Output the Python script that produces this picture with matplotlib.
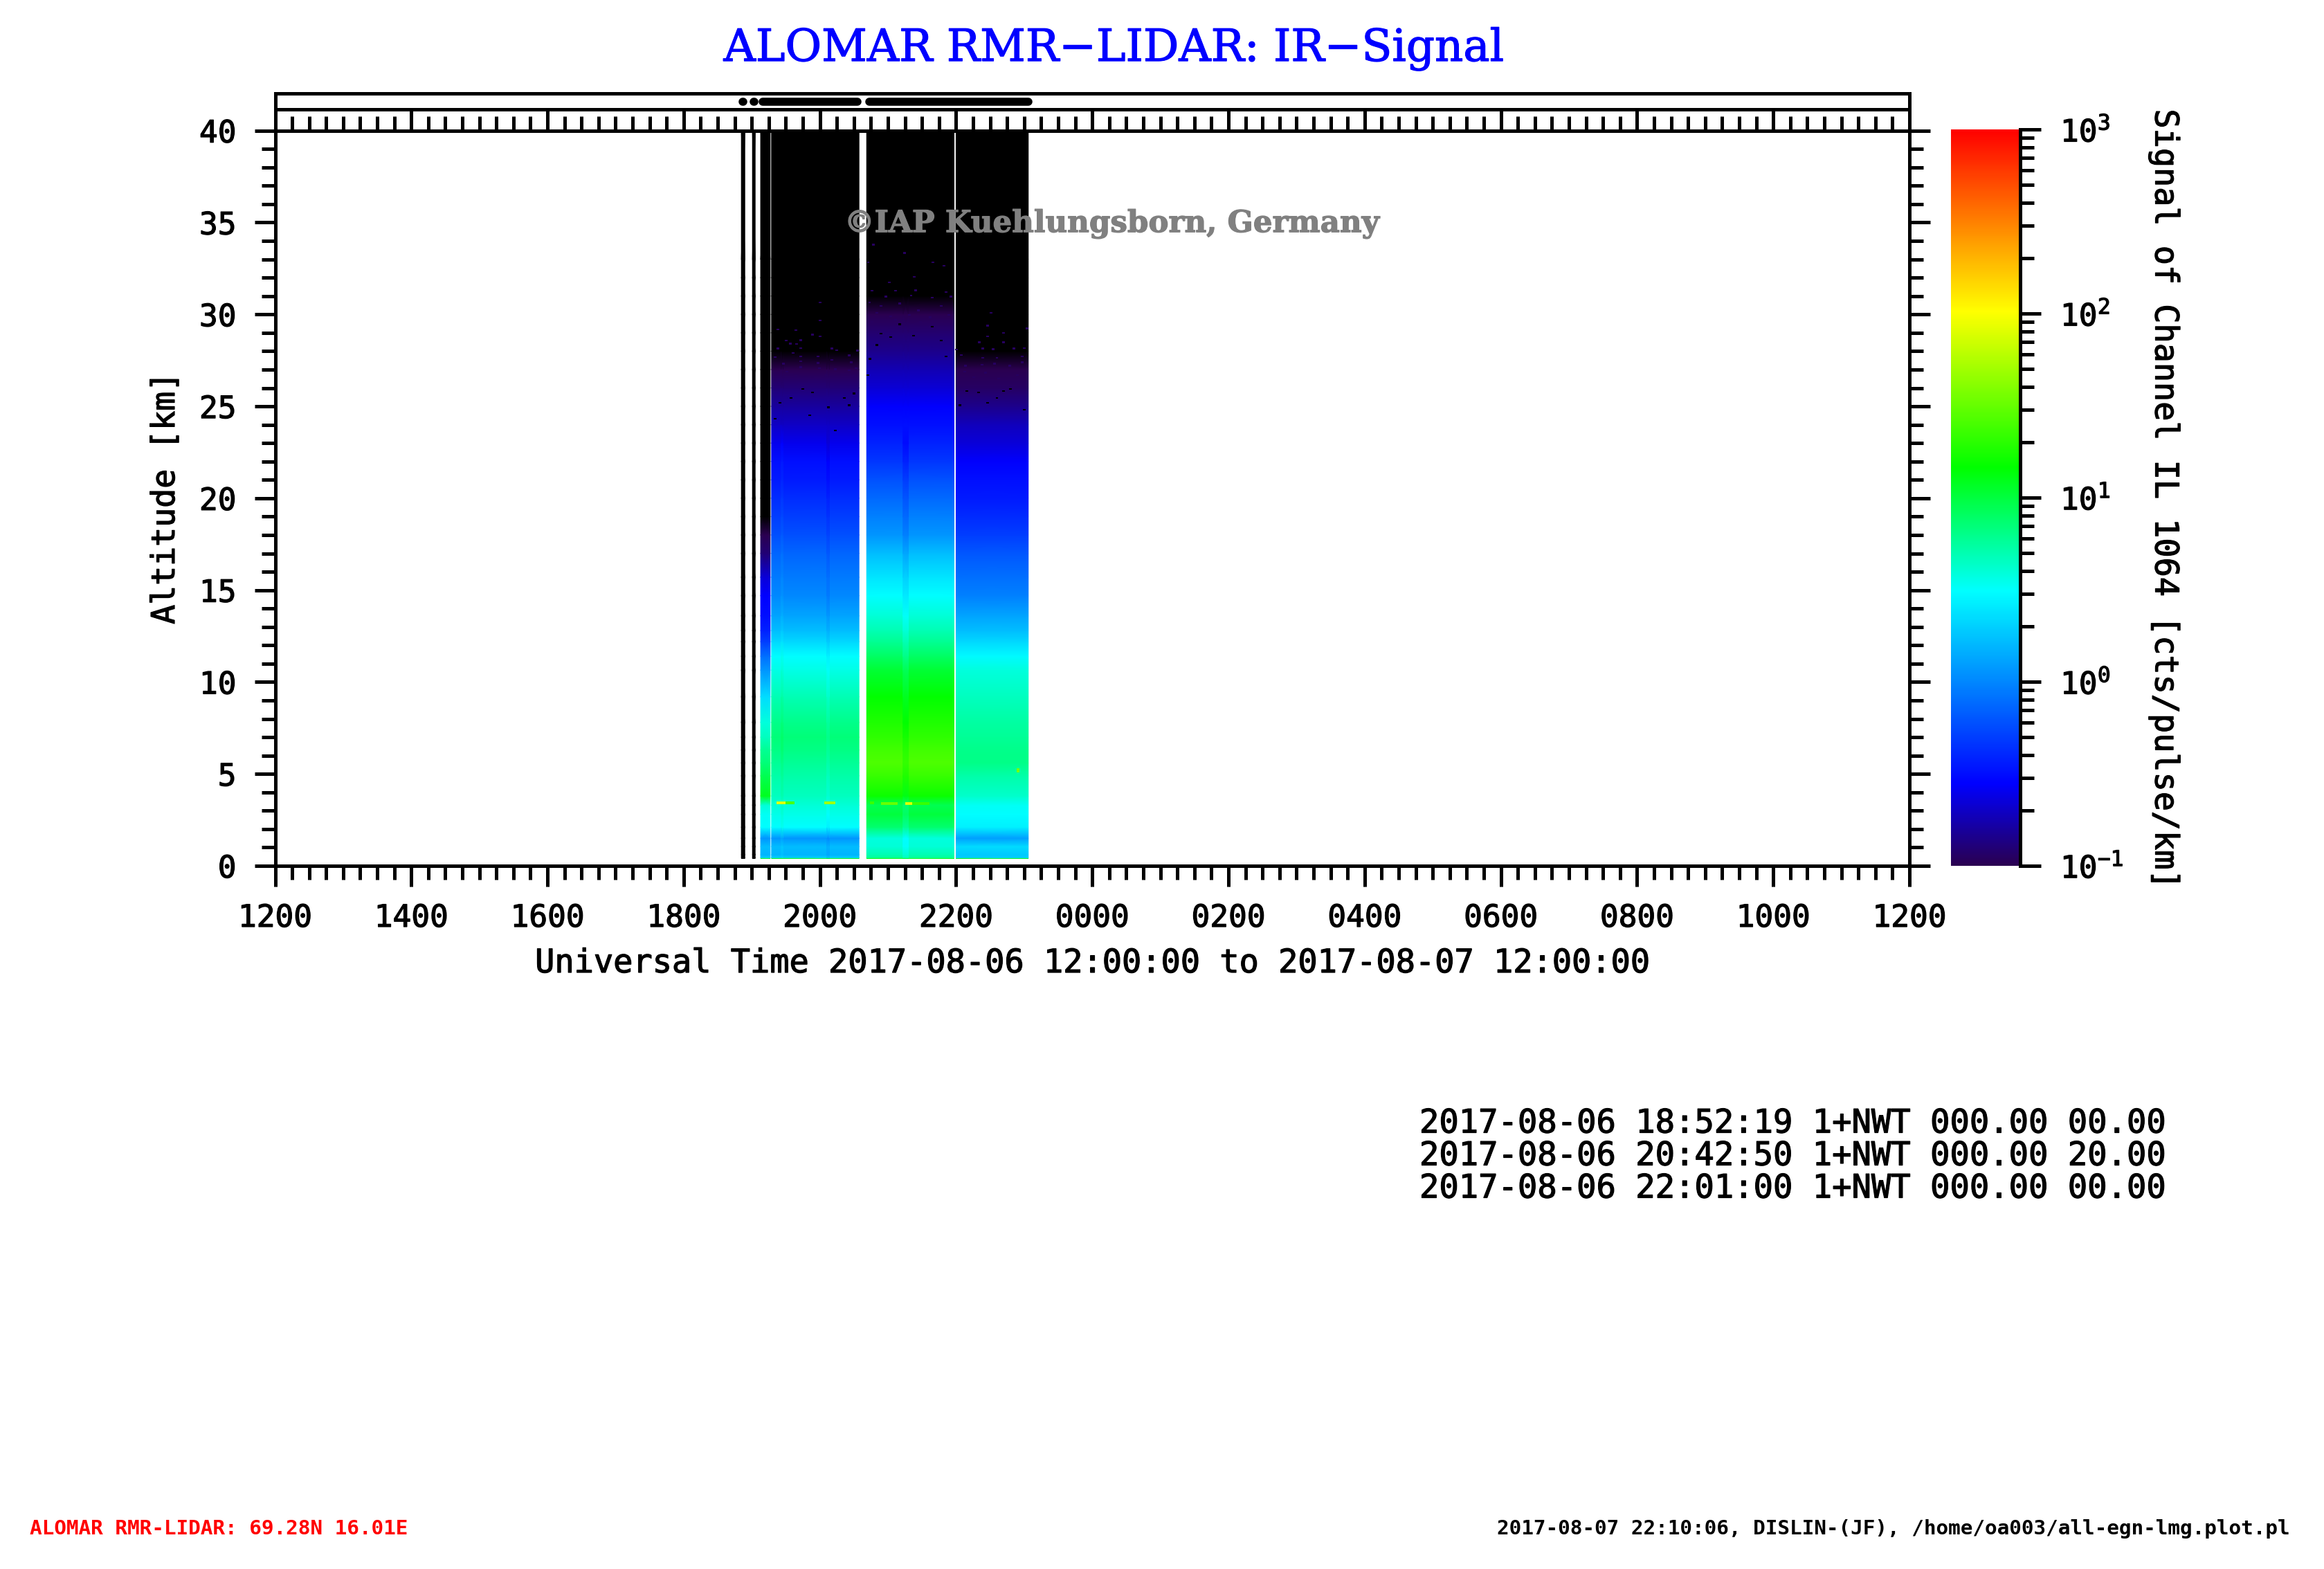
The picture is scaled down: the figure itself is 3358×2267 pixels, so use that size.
import numpy as np
import matplotlib
matplotlib.use('Agg')
import matplotlib.pyplot as plt
import matplotlib.patheffects as pe
from matplotlib.colors import LinearSegmentedColormap, LogNorm, to_hex
from matplotlib.text import Text
from matplotlib.ticker import LogLocator, NullFormatter, MultipleLocator

W, H = 3358, 2267
MONO = 'DejaVu Sans Mono'
plt.rcParams['font.family'] = [MONO]
plt.rcParams['mathtext.fontset'] = 'custom'
plt.rcParams['mathtext.rm'] = MONO

# altitude nodes [km] shared by all profiles
alt = [0.4, 0.45, 0.6, 1.05, 1.5, 2.1, 2.8, 3.3, 3.8, 4.9, 5.6, 6.3, 7, 7.8, 9.2, 10.65, 11.4, 12.2, 12.8, 13.6,
       14.7, 15.7, 17, 18, 19, 20, 21, 22, 23, 24, 25, 26, 27, 28, 29, 30, 31, 32, 33, 40]

# log10 of signal
prof_0 = [1.2, .3, .18, .22, .06, .49, .52, .6, 1.08, .95, .85, .78, .66, .58, .35, .06, -.1, -.3, -.42, -.5,
          -.55, -.65, -.9, -1.0, -1.1, -1.2, -1.5, -1.5, -1.5, -1.5, -1.5, -1.5, -1.5, -1.5, -1.5, -1.5, -1.5, -1.5, -1.5, -1.5]
prof_a = [1.2, .3, .18, .22, .06, .49, .55, .6, .66, .72, .77, .82, .85, .8, .69, .56, .49, .33, .22, .12,
          0, -.05, -.14, -.23, -.3, -.37, -.45, -.5, -.6, -.7, -.8, -.9, -1.0, -1.05, -1.2, -1.5, -1.5, -1.5, -1.5, -1.5]
prof_b = [1.2, .75, .7, .6, .58, .87, 1.0, .95, 1.2, 1.35, 1.42, 1.38, 1.32, 1.26, 1.17, 1.03, .9, .78, .69, .6,
          .49, .39, .22, .06, -.03, -.12, -.22, -.33, -.42, -.5, -.56, -.66, -.75, -.85, -.92, -1.0, -1.05, -1.2, -1.5, -1.5]
prof_c = [1.2, .3, .27, .35, .1, .43, .49, .52, .63, .72, .81, .8, .77, .74, .66, .58, .47, .33, .22, .12,
          -.03, -.1, -.2, -.3, -.38, -.45, -.5, -.56, -.65, -.72, -.85, -.95, -1.0, -1.05, -1.2, -1.5, -1.5, -1.5, -1.5, -1.5]
prof_off = [-2.0] * len(alt)

# measurement blocks: start, end [h after 00 UT on 08-06], profile
block_start = [18.847, 19.01, 19.13, 19.29, 20.687, 22.0]
block_end = [18.898, 19.05, 19.27, 20.575, 21.97, 23.06]
block_prof = [prof_off, prof_off, prof_0, prof_a, prof_b, prof_c]

# small columns that differ a bit from their block, only below stripe_top
stripe_start = [19.43, 20.10, 21.22]
stripe_end = [19.46, 20.14, 21.30]
stripe_prof = [prof_a, prof_a, prof_b]
stripe_off = [0.04, -0.05, -0.09]
stripe_top = 24

# thin layers
layer_start = [19.365, 19.50, 20.06, 20.74, 20.90, 21.25, 21.36, 22.89]
layer_end = [19.50, 19.63, 20.23, 20.80, 21.14, 21.36, 21.61, 22.93]
layer_bot = [3.35, 3.35, 3.35, 3.35, 3.3, 3.3, 3.3, 5.1]
layer_top = [3.5, 3.5, 3.5, 3.5, 3.45, 3.45, 3.45, 5.3]
layer_val = [1.9, 1.4, 1.7, 1.35, 1.5, 1.9, 1.35, 1.55]

# single weak range bins above the signal edge
weak_t = [20.006, 20.006, 19.379, 19.643, 19.887, 20.006, 19.508, 19.718, 19.565, 19.657, 19.379, 19.718, 20.175,
          20.243, 20.548, 19.609, 19.345, 19.718, 19.972, 20.43, 19.464, 19.718, 19.972, 20.175, 20.463, 19.515,
          19.718, 19.989, 20.226, 20.43, 20.531, 19.464, 19.65, 19.887, 20.09, 20.497,
          22.514, 22.463, 22.70, 23.04, 22.463, 22.344, 22.70, 22.005, 22.396, 22.548, 22.852, 23.005, 22.073,
          22.396, 22.60, 22.97, 22.14, 22.38, 22.565, 22.785, 22.97, 22.124, 22.43, 22.90, 22.26, 22.63,
          20.768, 21.107, 21.41, 21.853, 20.97, 21.34, 21.65, 21.92, 20.73, 20.90, 21.175, 21.446, 21.785, 20.836,
          21.04, 21.31, 21.62, 21.89, 20.77, 21.107, 21.48, 21.785, 20.79, 21.24, 21.02, 21.66, 20.71, 21.82, 21.39]
weak_alt = [30.61, 29.63, 29.14, 29.10, 28.85, 28.75, 28.54, 28.56, 28.37, 28.35, 28.10, 28.12, 28.10,
            28.01, 27.99, 27.85, 27.63, 27.66, 27.66, 27.72, 27.28, 27.41, 27.31, 27.47, 27.35, 26.84,
            27.09, 27.03, 26.97, 26.91, 27.03, 26.53, 26.59, 26.53, 26.65, 26.59,
            30.04, 29.35, 28.95, 29.19, 28.75, 28.44, 28.44, 28.04, 28.10, 28.06, 28.10, 28.12, 27.75,
            27.6, 27.6, 27.66, 27.16, 27.22, 27.28, 27.16, 27.35, 26.84, 26.78, 26.65, 26.53, 26.47,
            31.24, 31.24, 31.26, 31.17, 30.92, 30.99, 30.86, 30.92, 30.61, 30.42, 30.55, 30.17, 30.42, 30.04,
            29.86, 29.92, 29.79, 29.92, 29.54, 29.67, 29.54, 29.48, 33.75, 33.3, 31.7, 32.8, 32.8, 32.6, 32.0]
# empty range bins inside the weak zone
empty_t = [19.413, 19.887, 20.36, 19.75, 20.125, 19.58, 20.5, 19.345, 20.226, 19.853, 20.43,
           22.158, 22.463, 22.60, 22.80, 22.056, 22.33, 23.005, 22.70,
           20.90, 21.175, 21.65, 20.836, 21.38, 21.785, 21.04, 20.735, 20.70, 21.85]
empty_alt = [25.15, 25.71, 25.4, 25.9, 24.9, 25.4, 25.65, 24.27, 23.64, 24.46, 25.02,
             25.78, 25.15, 25.4, 25.9, 25.02, 25.71, 24.77, 25.78,
             28.91, 29.42, 29.29, 28.29, 28.79, 28.54, 28.73, 27.53, 26.65, 27.66]
weak_val = 0.11

# marks in the top strip
mark_start = [18.87, 19.03, 19.16, 20.72]
mark_end = [18.875, 19.035, 20.55, 23.06]

hour_ticks = list(range(12, 37, 2))
hour_labels = ['1200', '1400', '1600', '1800', '2000', '2200', '0000', '0200', '0400', '0600', '0800', '1000', '1200']
alt_ticks = [0, 5, 10, 15, 20, 25, 30, 35, 40]
cb_ticks = [0.1, 1, 10, 100, 1000]
cb_labels = ['$\\mathregular{10^{-1}}$', '$\\mathregular{10^{0}}$', '$\\mathregular{10^{1}}$',
             '$\\mathregular{10^{2}}$', '$\\mathregular{10^{3}}$']

info_lines = ['2017-08-06 18:52:19 1+NWT 000.00 00.00',
              '2017-08-06 20:42:50 1+NWT 000.00 20.00',
              '2017-08-06 22:01:00 1+NWT 000.00 00.00']
info_y = [1624, 1671, 1718]

cmap_pos = [0, .111, .373, .541, .753, 1]
cmap_col = ['#2a0050', '#0000ff', '#00ffff', '#00ff00', '#ffff00', '#ff0000']


def box(l, t, r, b):
    return [l / W, 1 - b / H, (r - l) / W, (b - t) / H]


def px(n):
    return n * 0.72


LW = px(5)
cmap = LinearSegmentedColormap.from_list('dislin', list(zip(cmap_pos, cmap_col)), N=512)
cmap.set_under('black')
norm = LogNorm(0.1, 1000)

fig = plt.figure(figsize=(W / 100, H / 100), dpi=100)
ax = fig.add_axes(box(397.5, 188.7, 2759, 1251))
strip = fig.add_axes(box(397.5, 135, 2759, 188.7))
cax = fig.add_axes(box(2819, 187, 2919, 1251))

alts = np.array(alt)
for t0, t1, p in zip(block_start, block_end, block_prof):
    v = 10.0 ** np.array(p)
    ax.pcolormesh([t0, t1], alts, np.column_stack([v, v]), shading='gouraud', cmap=cmap, norm=norm)
for t0, t1, p, d in zip(stripe_start, stripe_end, stripe_prof, stripe_off):
    v = 10.0 ** (np.array(p) + d * (alts < stripe_top))
    ax.pcolormesh([t0, t1], alts, np.column_stack([v, v]), shading='gouraud', cmap=cmap, norm=norm)
for t0, t1, b, tp, v in zip(layer_start, layer_end, layer_bot, layer_top, layer_val):
    ax.pcolormesh([t0, t1], [b, tp], [[10.0 ** v]], cmap=cmap, norm=norm)
ax.bar(weak_t, 0.09, width=0.04, bottom=weak_alt, color=cmap(norm(weak_val)), linewidth=0)
ax.bar(empty_t, 0.09, width=0.04, bottom=empty_alt, color='black', linewidth=0)

ax.set_xlim(12, 36)
ax.set_ylim(0, 40)
for s in ax.spines.values():
    s.set_linewidth(LW)
ax.set_xticks(hour_ticks, hour_labels)
ax.set_yticks(alt_ticks)
ax.xaxis.set_minor_locator(MultipleLocator(0.25))
ax.yaxis.set_minor_locator(MultipleLocator(1))
ax.tick_params(which='major', length=px(30), width=LW, labelsize=32, pad=px(24))
ax.tick_params(which='minor', length=px(20), width=LW)
ax.tick_params(axis='y', which='both', right=True, pad=px(26))
ax.set_xlabel('Universal Time 2017-08-06 12:00:00 to 2017-08-07 12:00:00', fontsize=33.8, labelpad=px(22))
ax.set_ylabel('Altitude [km]', fontsize=33.5, labelpad=px(26))
ax.text(1220 / W, 1 - 323 / H, '\u00a9IAP Kuehlungsborn, Germany', transform=fig.transFigure, color='#808080',
        family='DejaVu Serif', weight='bold', fontsize=31.4, va='center', ha='left', zorder=10)

strip.set_xlim(12, 36)
strip.set_ylim(0, 1)
strip.set_yticks([])
for s in strip.spines.values():
    s.set_linewidth(LW)
strip.set_xticks(hour_ticks)
strip.set_xticklabels([])
strip.xaxis.set_minor_locator(MultipleLocator(0.25))
strip.tick_params(which='major', direction='in', length=px(30), width=LW)
strip.tick_params(which='minor', direction='in', length=px(21), width=LW)
strip.axhline(0.572, color='k', lw=LW)
for t0, t1 in zip(mark_start, mark_end):
    strip.plot([t0, t1], [0.777, 0.777], color='k', lw=px(11.6), solid_capstyle='round')

sm = plt.cm.ScalarMappable(norm=norm, cmap=cmap)
cb = fig.colorbar(sm, cax=cax)
cb.outline.set_visible(False)
cb.set_ticks(cb_ticks, labels=cb_labels)
cax.yaxis.set_minor_locator(LogLocator(base=10, subs=range(2, 10)))
cax.yaxis.set_minor_formatter(NullFormatter())
cax.axvline(1, color='k', lw=LW, clip_on=False)
cax.tick_params(which='major', length=px(30), width=LW, labelsize=32, pad=px(28))
cax.tick_params(which='minor', length=px(20), width=LW)

fig.text(1609 / W, 1 - 71 / H, 'ALOMAR RMR\u2212LIDAR: IR\u2212Signal', color='#0000ff', family='DejaVu Serif',
         fontsize=46.2, ha='center', va='center')
fig.text(3127 / W, 1 - 720 / H, 'Signal of Channel IL 1064 [cts/pulse/km]', rotation=-90, fontsize=33.7,
         ha='center', va='center')
for line, y in zip(info_lines, info_y):
    fig.text(2051 / W, 1 - y / H, line, fontsize=33.95, ha='left', va='center')
fig.text(43 / W, 1 - 2209 / H, 'ALOMAR RMR-LIDAR: 69.28N 16.01E', color='#ff0000', fontsize=21.15, weight='bold',
         ha='left', va='center')
fig.text(2163 / W, 1 - 2209 / H, '2017-08-07 22:10:06, DISLIN-(JF), /home/oa003/all-egn-lmg.plot.pl', fontsize=21.15,
         weight='bold', ha='left', va='center')

# the original font is drawn heavier
for t in fig.findobj(Text):
    if t.get_fontsize() > 25:
        t.set_path_effects([pe.withStroke(linewidth=0.9, foreground=to_hex(t.get_color()))])

fig.savefig('out.png', dpi=100)
